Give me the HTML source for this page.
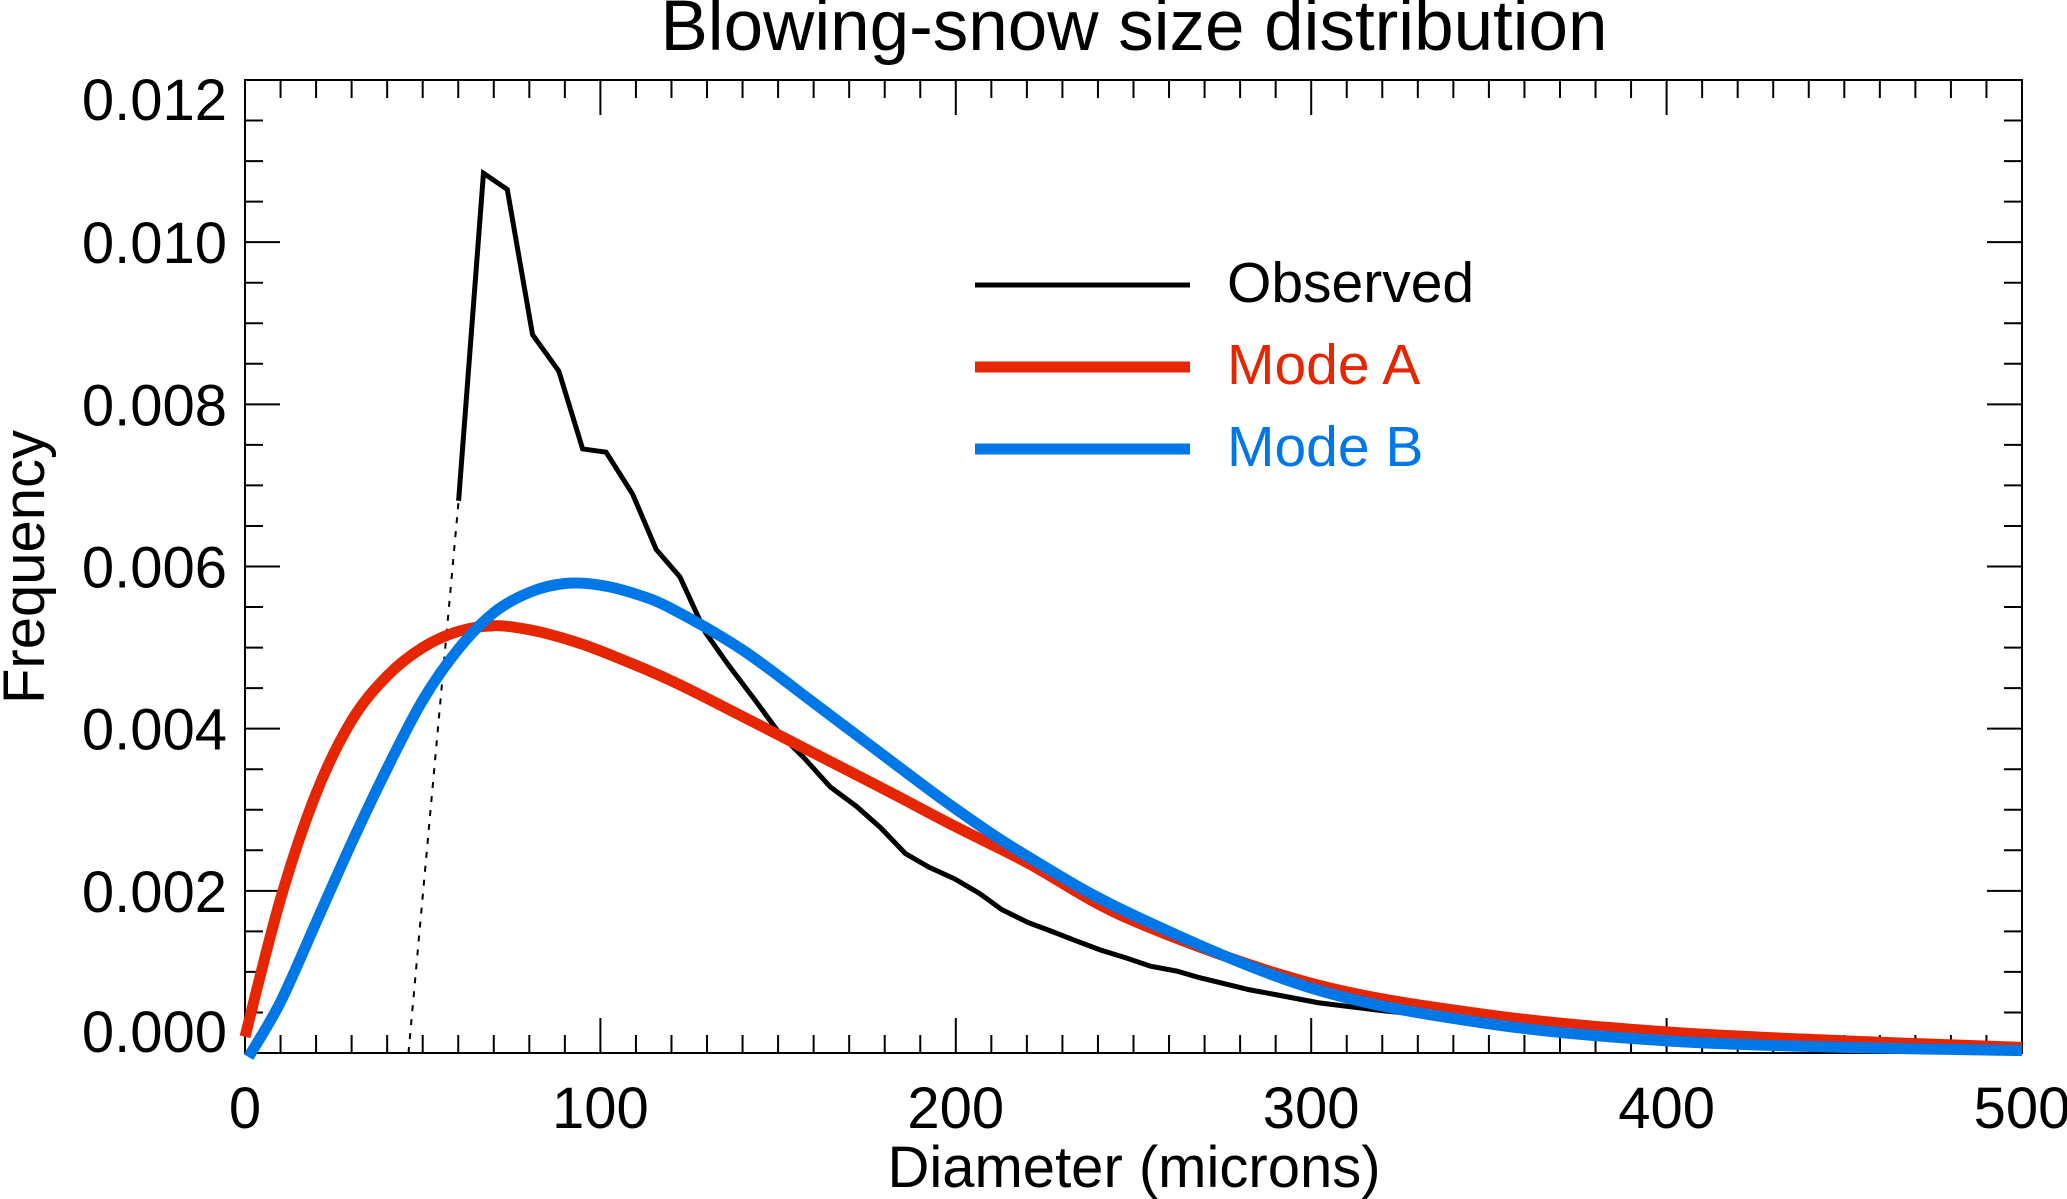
<!DOCTYPE html>
<html><head><meta charset="utf-8"><style>
html,body{margin:0;padding:0;background:#fff;}
svg{display:block;font-family:"Liberation Sans",Arial,sans-serif;}
</style></head><body>
<svg id="chart" width="2067" height="1199" viewBox="0 0 2067 1199" xmlns="http://www.w3.org/2000/svg">
<rect width="2067" height="1199" fill="#fff"/>
<text x="1134" y="50" font-size="71" text-anchor="middle">Blowing-snow size distribution</text>
<text x="1134" y="1187" font-size="58" text-anchor="middle">Diameter (microns)</text>
<text x="0" y="0" font-size="58" text-anchor="middle" transform="translate(44,567) rotate(-90)">Frequency</text>
<g id="axes"></g>
<g id="series"></g>
<g>
  <line x1="975" y1="285" x2="1190" y2="285" stroke="#000" stroke-width="5"/>
  <text x="1227" y="302" font-size="57">Observed</text>
  <line x1="975" y1="367" x2="1190" y2="367" stroke="#e62600" stroke-width="11"/>
  <text x="1227" y="384" font-size="57" fill="#e62600">Mode A</text>
  <line x1="975" y1="449" x2="1190" y2="449" stroke="#0077e6" stroke-width="11"/>
  <text x="1227" y="466" font-size="57" fill="#0077e6">Mode B</text>
</g>
</svg>
<script>
const xTicks = [0, 100, 200, 300, 400, 500];
const yTicks = [0, 0.002, 0.004, 0.006, 0.008, 0.010, 0.012];
const yTickLabels = ["0.000", "0.002", "0.004", "0.006", "0.008", "0.010", "0.012"];
const obsX = [60.1, 67.1, 73.8, 80.9, 88.3, 95.0, 101.6, 109.1, 115.7, 122.4, 129.5, 136.1, 143.2, 150.6, 157.3, 164.7, 172.1, 178.8, 185.8, 192.5, 199.6, 206.6, 212.9, 220.3, 227, 234, 240.7, 248.1, 254.8, 262.2, 268.5, 276, 282.6, 290, 302, 320.5, 339, 376, 413, 450, 500];
const obsY = [0.00681, 0.01085, 0.01065, 0.00886, 0.00841, 0.00745, 0.00741, 0.00689, 0.00621, 0.00587, 0.00519, 0.00478, 0.00437, 0.00393, 0.00364, 0.00328, 0.00304, 0.00278, 0.00246, 0.00229, 0.00215, 0.00197, 0.00177, 0.00161, 0.0015, 0.00138, 0.00127, 0.00117, 0.00107, 0.00101, 0.00093, 0.00085, 0.00078, 0.00072, 0.00062, 0.00052, 0.00044, 0.00029, 0.00018, 0.0001, 0.00003];
const extrapX = [46, 60.1];
const extrapY = [0, 0.00681];
const modeAX = [0, 10, 20, 30, 40, 50, 60, 70, 80, 90, 100, 120, 140, 160, 180, 200, 220, 250, 300, 350, 400, 450, 500];
const modeAY = [0.0002, 0.0019, 0.0032, 0.0041, 0.00465, 0.005, 0.0052, 0.00527, 0.00522, 0.00511, 0.00496, 0.00459, 0.00415, 0.0037, 0.00325, 0.00279, 0.00235, 0.00163, 0.00086, 0.00047, 0.00026, 0.00015, 0.00007];
const modeBX = [1, 10, 20, 30, 40, 50, 60, 70, 80, 90, 100, 110, 120, 140, 160, 180, 200, 220, 250, 300, 350, 400, 450, 500];
const modeBY = [-0.00005, 0.00063, 0.00161, 0.00259, 0.00351, 0.00435, 0.00498, 0.00543, 0.00568, 0.00579, 0.00577, 0.00566, 0.00548, 0.00497, 0.00432, 0.00366, 0.00301, 0.00243, 0.0017, 0.0008, 0.00036, 0.00015, 0.00007, 0.00003];

const L = 245, R = 2022, T = 80, B = 1053;
const xs = v => L + (v - 0) / 500 * (R - L);
const ys = v => B - v / 0.012 * (B - T);
const NS = "http://www.w3.org/2000/svg";
function mk(tag, attrs, parent) {
  const e = document.createElementNS(NS, tag);
  for (const k in attrs) e.setAttribute(k, attrs[k]);
  parent.appendChild(e);
  return e;
}
const axes = document.getElementById('axes');
const frame = mk('rect', {x: L, y: T, width: R - L, height: B - T, fill: 'none', stroke: '#000', 'stroke-width': 2}, axes);


for (let v = 0; v <= 500; v += 10) {
  const major = v % 100 === 0;
  const len = major ? 35 : 18;
  const x = xs(v);
  const t1 = mk('line', {x1: x, y1: B, x2: x, y2: B - len, stroke: '#000', 'stroke-width': 2}, axes);
  
  
  const t2 = mk('line', {x1: x, y1: T, x2: x, y2: T + len, stroke: '#000', 'stroke-width': 2}, axes);
  
  
}
xTicks.forEach(v => {
  const t = mk('text', {x: xs(v), y: 1128, 'font-size': 58, 'text-anchor': 'middle'}, axes);
  t.textContent = String(v);
  
  
});
for (let i = 0; i <= 24; i++) {
  const v = i * 0.0005;
  const major = i % 4 === 0;
  const len = major ? 35 : 18;
  const y = ys(v);
  const t1 = mk('line', {x1: L, y1: y, x2: L + len, y2: y, stroke: '#000', 'stroke-width': 2}, axes);
  
  
  const t2 = mk('line', {x1: R, y1: y, x2: R - len, y2: y, stroke: '#000', 'stroke-width': 2}, axes);
  
  
}
yTicks.forEach((v, i) => {
  let y = ys(v) + 21;
  if (i === 0) y -= 22;
  if (i === yTicks.length - 1) y += 19;
  const t = mk('text', {x: 227, y: y, 'font-size': 58, 'text-anchor': 'end'}, axes);
  t.textContent = yTickLabels[i];
  
  
});
function smoothPath(X, Y) {
  const p = X.map((x, i) => [xs(x), ys(Y[i])]);
  let d = `M${p[0][0]},${p[0][1]}`;
  for (let i = 0; i < p.length - 1; i++) {
    const p0 = p[i - 1] || p[i], p1 = p[i], p2 = p[i + 1], p3 = p[i + 2] || p2;
    const c1 = [p1[0] + (p2[0] - p0[0]) / 6, p1[1] + (p2[1] - p0[1]) / 6];
    const c2 = [p2[0] - (p3[0] - p1[0]) / 6, p2[1] - (p3[1] - p1[1]) / 6];
    d += ` C${c1[0]},${c1[1]} ${c2[0]},${c2[1]} ${p2[0]},${p2[1]}`;
  }
  return d;
}
function linePath(X, Y) {
  return X.map((x, i) => (i ? 'L' : 'M') + xs(x) + ',' + ys(Y[i])).join(' ');
}
const sg = document.getElementById('series');
const ex = mk('path', {d: linePath(extrapX, extrapY), fill: 'none', stroke: '#000', 'stroke-width': 2, 'stroke-dasharray': '6,8'}, sg);


const ob = mk('path', {d: linePath(obsX, obsY), fill: 'none', stroke: '#000', 'stroke-width': 5, 'stroke-linejoin': 'miter'}, sg);


const ma = mk('path', {d: smoothPath(modeAX, modeAY), fill: 'none', stroke: '#e62600', 'stroke-width': 11}, sg);


const mb = mk('path', {d: smoothPath(modeBX, modeBY), fill: 'none', stroke: '#0077e6', 'stroke-width': 11}, sg);


</script>
</body></html>
